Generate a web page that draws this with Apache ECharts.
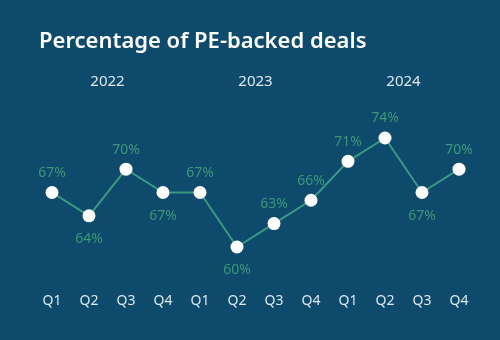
<!DOCTYPE html>
<html>
<head>
<meta charset="utf-8">
<script src="https://cdn.jsdelivr.net/npm/echarts@6/dist/echarts.min.js"></script>
<style>
  html, body { margin: 0; padding: 0; background: #0d4a6b; }
  #chart { width: 500px; height: 340px; }
</style>
</head>
<body>
<div id="chart"></div>
<script>
// Quarterly share of PE-backed deals, 2022–2024
const quarters = ['Q1', 'Q2', 'Q3', 'Q4', 'Q1', 'Q2', 'Q3', 'Q4', 'Q1', 'Q2', 'Q3', 'Q4'];
const years = ['2022', '2023', '2024'];
const peShare = [67, 64, 70, 67, 67, 60, 63, 66, 71, 74, 67, 70];

const FONT = '"Noto Sans", "Open Sans", sans-serif';

// labels sit below a point when the value fell from the previous quarter
const seriesData = peShare.map((v, i) => {
  const fell = i > 0 && v < peShare[i - 1];
  return { value: v, label: { position: fell ? 'bottom' : 'top', distance: fell ? 10 : 6 } };
});

const chart = echarts.init(document.getElementById('chart'), null, { renderer: 'canvas' });
chart.setOption({
  backgroundColor: '#0d4a6b',
  animation: false,
  title: {
    text: 'Percentage of PE-backed deals',
    left: 34,
    top: 26,
    textStyle: { color: '#ffffff', fontFamily: FONT, fontSize: 22, fontWeight: 600 }
  },
  grid: { left: 33.5, right: 22.5, top: 130.2, height: 155.7 },
  xAxis: [
    {
      type: 'category',
      data: quarters,
      boundaryGap: true,
      axisLine: { show: false },
      axisTick: { show: false },
      axisLabel: { color: '#dbe8f0', fontFamily: FONT, fontSize: 14, margin: 8 }
    },
    {
      type: 'category',
      position: 'top',
      data: years,
      boundaryGap: true,
      axisLine: { show: false },
      axisTick: { show: false },
      axisLabel: { color: '#dbe8f0', fontFamily: FONT, fontSize: 15, margin: 41 }
    }
  ],
  yAxis: {
    type: 'value',
    min: 55,
    max: 75,
    show: false,
    splitLine: { show: false }
  },
  series: [{
    type: 'line',
    data: seriesData,
    symbol: 'circle',
    symbolSize: 13,
    itemStyle: { color: '#ffffff', borderWidth: 0 },
    lineStyle: { color: '#3a9a84', width: 2 },
    label: {
      show: true,
      formatter: '{c}%',
      color: '#3d9679',
      fontFamily: FONT,
      fontSize: 14
    },
    z: 3
  }]
});
</script>
</body>
</html>
